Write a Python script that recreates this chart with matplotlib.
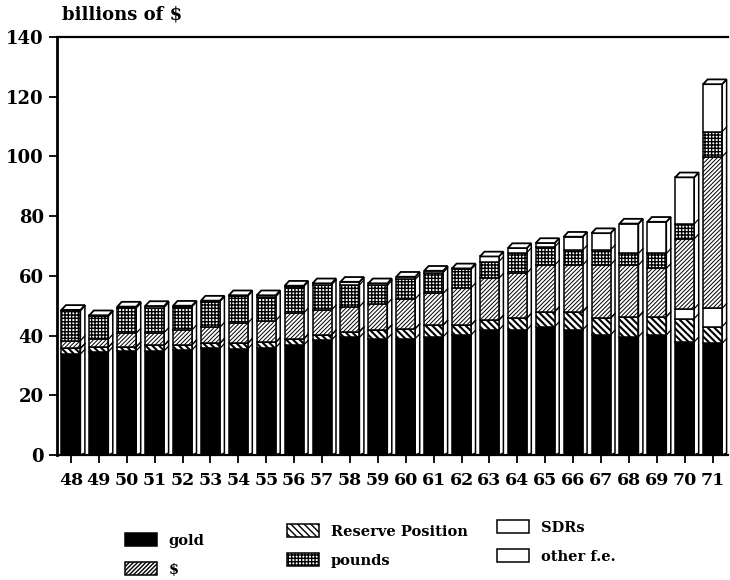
import numpy as np
import matplotlib
matplotlib.use('Agg')
import matplotlib.pyplot as plt
from matplotlib.patches import Polygon

# world reserves, billions of $
years = ['48', '49', '50', '51', '52', '53', '54', '55', '56', '57', '58', '59',
         '60', '61', '62', '63', '64', '65', '66', '67', '68', '69', '70', '71']
gold = [33.8, 34.6, 34.9, 34.9, 35.2, 35.7, 35.6, 36.0, 36.8, 38.5, 39.4, 39.0,
        39.0, 39.6, 40.2, 41.9, 41.9, 43.0, 41.9, 40.2, 39.6, 40.2, 37.9, 37.4]
reserve = [1.9, 1.5, 1.3, 1.8, 1.7, 1.7, 1.8, 1.7, 2.0, 1.7, 1.9, 3.0,
           3.3, 3.9, 3.3, 3.3, 3.9, 5.0, 6.1, 5.6, 6.7, 6.1, 7.8, 5.6]
sdrs = [0, 0, 0, 0, 0, 0, 0, 0, 0, 0, 0, 0,
        0, 0, 0, 0, 0, 0, 0, 0, 0, 0, 3.3, 6.1]
dollars = [2.6, 2.7, 4.6, 4.3, 5.0, 5.4, 6.8, 7.3, 8.7, 8.4, 8.4, 8.7,
           10.0, 10.6, 12.5, 14.0, 15.1, 15.6, 15.6, 17.9, 17.3, 16.2, 23.4, 50.8]
pounds = [10.0, 7.7, 8.4, 8.4, 7.8, 8.6, 9.0, 8.0, 8.9, 8.4, 7.3, 6.1,
          6.5, 7.0, 6.2, 5.6, 6.9, 6.1, 5.0, 5.0, 3.9, 5.0, 5.0, 8.4]
other = [0.3, 0.3, 0.5, 0.5, 0.3, 0.3, 0.3, 0.5, 0.3, 0.5, 1.0, 0.7,
         0.9, 0.6, 0.3, 1.7, 1.5, 1.3, 4.5, 5.6, 10.0, 10.6, 15.6, 15.9]

plt.rcParams['font.family'] = ['DejaVu Serif']
plt.rcParams['font.weight'] = 'bold'
plt.rcParams['hatch.color'] = 'black'

fig = plt.figure(figsize=(7.3, 5.8), dpi=100)
ax = fig.add_axes([57 / 730, 1 - 455 / 580, 671 / 730, 418 / 580])

x = np.arange(len(years))
w = 0.68
dx = 0.16   # depth of the fake 3d side
dy = 1.6

# (values, fill, hatch, hatch width, label)
series = [
    (gold, 'black', None, 1.0, 'gold'),
    (reserve, 'white', '\\' * 5, 1.5, 'Reserve Position'),
    (sdrs, 'white', None, 1.0, 'SDRs'),
    (dollars, 'white', '/' * 8, 0.7, '$'),
    (pounds, 'white', '+' * 5, 1.0, 'pounds'),
    (other, 'white', None, 1.0, 'other f.e.'),
]

handles = {}
bottom = np.zeros(len(years))
bounds = []
for vals, fc, hatch, hlw, lab in series:
    vals = np.array(vals, dtype=float)
    plt.rcParams['hatch.linewidth'] = hlw
    bc = ax.bar(x, vals, w, bottom=bottom, color=fc, edgecolor='black',
                linewidth=1.1, hatch=hatch, label=lab, zorder=3)
    handles[lab] = bc
    bottom = bottom + vals
    bounds.append(bottom.copy())
total = bottom

# side face, cap and little boundary marks
for xi, t in zip(x, total):
    r = xi + w / 2
    l = xi - w / 2
    side = Polygon([(r, 0), (r + dx, dy * 0.4), (r + dx, t + dy), (r, t)],
                   closed=True, facecolor='white', edgecolor='black', lw=1.1, zorder=2)
    cap = Polygon([(l, t), (l + dx, t + dy), (r + dx, t + dy), (r, t)],
                  closed=True, facecolor='white', edgecolor='black', lw=1.3, zorder=4)
    ax.add_patch(side)
    ax.add_patch(cap)
for b in bounds[:-1]:
    for xi, c in zip(x, b):
        ax.plot([xi + w / 2, xi + w / 2 + dx], [c, c + dy], color='black', lw=0.9, zorder=3)

ax.set_xlim(-0.5, 23.55)
ax.set_ylim(0, 140)
ax.set_yticks(np.arange(0, 141, 20))
ax.set_xticks(x)
ax.set_xticklabels(years)
ax.tick_params(axis='both', direction='out', length=6, width=1.3, labelsize=13)
ax.tick_params(axis='x', pad=6, labelsize=12.5)
ax.spines['right'].set_visible(False)
ax.spines['left'].set_linewidth(2)
ax.spines['top'].set_linewidth(1.6)
ax.spines['bottom'].set_linewidth(1.6)

fig.text(62 / 730, 1 - 15 / 580, 'billions of $', fontsize=13, fontweight='bold',
         va='center', ha='left')

leg_kw = dict(frameon=False, fontsize=10.5, handlelength=2.2, handleheight=1.0,
              labelspacing=1.0, handletextpad=0.8, borderpad=0, borderaxespad=0,
              loc='center left')
fig.legend([handles['gold'], handles['$']], ['gold', '$'],
           bbox_to_anchor=(125 / 730, 1 - 555 / 580), **leg_kw)
fig.legend([handles['Reserve Position'], handles['pounds']], ['Reserve Position', 'pounds'],
           bbox_to_anchor=(287 / 730, 1 - 546 / 580), **leg_kw)
fig.legend([handles['SDRs'], handles['other f.e.']], ['SDRs', 'other f.e.'],
           bbox_to_anchor=(497 / 730, 1 - 542 / 580), **leg_kw)

fig.savefig('out.png', dpi=100)
